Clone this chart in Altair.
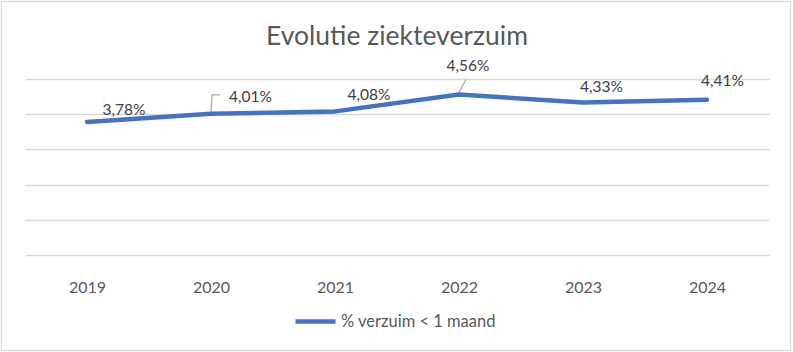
import altair as alt
import pandas as pd

years = ["2019", "2020", "2021", "2022", "2023", "2024"]
values = [3.78, 4.01, 4.08, 4.56, 4.33, 4.41]
series_name = "% verzuim < 1 maand"
title_text = "Evolutie ziekteverzuim"

df = pd.DataFrame({
    "year": years,
    "value": values,
    "label": [f"{v:.2f}%".replace(".", ",") for v in values],
    "series": [series_name] * len(years),
})

# label placement (style only): dx, dy from each point
label_offsets = {
    "2019": (37, -11.5),
    "2020": (39.5, -17),
    "2021": (34, -16.5),
    "2022": (9, -28.5),
    "2023": (18.5, -16),
    "2024": (15.5, -19),
}

FONT = "Lato"
BLUE = "#4472C4"
GRID = "#D9D9D9"

x_enc = alt.X("year:N", sort=years,
              scale=alt.Scale(type="point", padding=0.5),
              axis=alt.Axis(title=None, domain=False, ticks=False, grid=False,
                            labelFont=FONT, labelFontSize=16, labelColor="#595959",
                            labelPadding=24, labelAngle=0))
y_enc = alt.Y("value:Q",
              scale=alt.Scale(domain=[0, 5], nice=False, zero=True),
              axis=alt.Axis(title=None, domain=False, ticks=False, labels=False,
                            values=[0, 1, 2, 3, 4, 5], gridColor=GRID, gridWidth=1.3))

base = alt.Chart(df)

line = base.mark_line(strokeWidth=4.5, strokeCap="round", strokeJoin="round").encode(
    x=x_enc, y=y_enc,
    color=alt.Color("series:N", scale=alt.Scale(range=[BLUE]),
                    legend=alt.Legend(title=None, orient="none", legendX=268, legendY=220,
                                      symbolType="stroke", symbolSize=1600,
                                      symbolStrokeWidth=4.5, symbolStrokeColor=BLUE,
                                      labelFont=FONT, labelFontSize=16.5, labelColor="#595959",
                                      labelOffset=3, padding=0)),
)

layers = [line]
for yr, (dx, dy) in label_offsets.items():
    layers.append(
        base.transform_filter(alt.datum.year == yr)
        .mark_text(font=FONT, fontSize=15.5, color="#404040", dx=dx, dy=dy,
                   align="center", baseline="middle")
        .encode(x=x_enc, y=y_enc, text="label:N")
    )

# leader lines
lead2020_v = base.transform_filter(alt.datum.year == "2020").mark_rule(
    color="#A6A6A6", strokeWidth=1.2, x2Offset=1, y2Offset=-19).encode(
    x=x_enc, y=y_enc, x2=alt.X2("year"), y2=alt.Y2("value"))
lead2020_h = base.transform_filter(alt.datum.year == "2020").mark_rule(
    color="#A6A6A6", strokeWidth=1.2, xOffset=1, yOffset=-19, x2Offset=9, y2Offset=-19).encode(
    x=x_enc, y=y_enc, x2=alt.X2("year"), y2=alt.Y2("value"))
lead2022 = base.transform_filter(alt.datum.year == "2022").mark_rule(
    color="#A6A6A6", strokeWidth=1.2, yOffset=-2, x2Offset=7, y2Offset=-15).encode(
    x=x_enc, y=y_enc, x2=alt.X2("year"), y2=alt.Y2("value"))

deco = alt.Data(values=[{"t": title_text}])
border = alt.Chart(deco).mark_rect(
    fill=None, fillOpacity=0, stroke=GRID, strokeWidth=1.3).encode(
    x=alt.value(-23.5), x2=alt.value(765.5), y=alt.value(-77.5), y2=alt.value(271.5))
title = alt.Chart(deco).mark_text(
    font=FONT, fontSize=26.5, color="#595959", align="center", baseline="alphabetic").encode(
    x=alt.value(372), y=alt.value(-34), text="t:N")

chart = alt.layer(border, title, lead2020_v, lead2020_h, lead2022, *layers).properties(
    width=744, height=176,
    autosize=alt.AutoSizeParams(type="none"),
    padding={"left": 25, "top": 79, "right": 24, "bottom": 97},
).configure(background="white").configure_view(stroke=None)

chart.save("out.html", embed_options={"renderer": "svg", "actions": False})
